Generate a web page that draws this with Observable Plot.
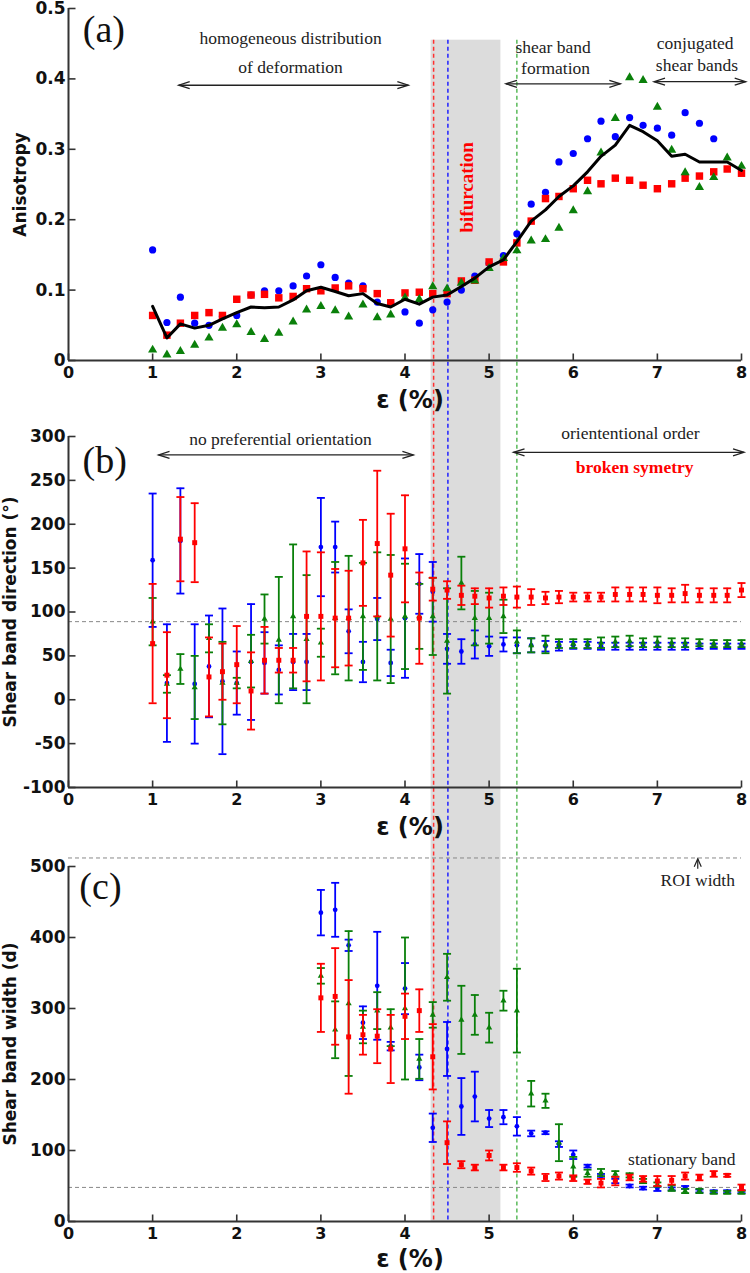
<!DOCTYPE html>
<html><head><meta charset="utf-8">
<script src="https://cdn.jsdelivr.net/npm/d3@7"></script>
<script src="https://cdn.jsdelivr.net/npm/@observablehq/plot@0.6"></script>
<style>body{margin:0;background:#fff} #chart svg{display:block}</style>
</head><body><div id="chart"></div>
<script>
// ---------- tick labels ----------
const xTicks = [0, 1, 2, 3, 4, 5, 6, 7, 8];
const aYTicks = [0, 0.1, 0.2, 0.3, 0.4, 0.5];
const bYTicks = [-100, -50, 0, 50, 100, 150, 200, 250, 300];
const cYTicks = [0, 100, 200, 300, 400, 500];

// ---------- panel (a): anisotropy ----------
const aX = [1,1.17,1.33,1.5,1.67,1.83,2,2.17,2.33,2.5,2.67,2.83,3,3.17,3.33,3.5,3.67,3.83,4,4.17,4.33,4.5,4.67,4.83,5,5.17,5.33,5.5,5.67,5.83,6,6.17,6.33,6.5,6.67,6.83,7,7.17,7.33,7.5,7.67,7.83,8];
const aBlue = [0.157,0.054,0.090,0.053,0.050,0.063,0.064,0.093,0.099,0.099,0.106,0.120,0.136,0.118,0.110,0.106,0.083,0.082,0.069,0.053,0.072,0.083,0.100,0.120,0.138,0.149,0.180,0.222,0.239,0.282,0.294,0.315,0.340,0.318,0.345,0.334,0.330,0.320,0.352,0.337,0.315,null,null];
const aRed = [0.064,0.036,0.053,0.064,0.068,0.064,0.087,0.093,0.094,0.089,0.091,0.102,0.099,0.103,0.106,0.102,0.095,0.082,0.096,0.097,0.095,0.095,0.113,0.114,0.140,0.140,0.167,0.198,0.230,0.233,0.244,0.256,0.251,0.259,0.256,0.249,0.244,0.251,0.259,0.262,0.268,0.272,0.266];
const aGreen = [0.015,0.008,0.013,0.022,0.032,0.046,0.051,0.040,0.030,0.039,0.055,0.072,0.077,0.071,0.062,0.079,0.061,0.065,0.089,0.087,0.105,0.102,0.110,0.113,0.131,0.145,0.156,0.170,0.172,0.188,0.213,0.240,0.295,0.344,0.402,0.398,0.360,0.299,0.267,0.246,0.260,0.288,0.276];
const aMean = [0.077,0.032,0.052,0.046,0.050,0.059,0.068,0.076,0.075,0.076,0.086,0.099,0.104,0.098,0.092,0.095,0.081,0.076,0.087,0.080,0.090,0.093,0.105,0.117,0.133,0.143,0.169,0.198,0.214,0.233,0.248,0.268,0.290,0.306,0.334,0.325,0.312,0.290,0.293,0.282,0.282,0.282,0.270];

// ---------- panel (b): shear band direction (mean, error) ----------
const bX = [1,1.17,1.33,1.5,1.67,1.83,2,2.17,2.33,2.5,2.67,2.83,3,3.17,3.33,3.5,3.67,3.83,4,4.17,4.33,4.5,4.67,4.83,5,5.17,5.33,5.5,5.67,5.83,6,6.17,6.33,6.5,6.67,6.83,7,7.17,7.33,7.5,7.67,7.83,8];
const bBlueM = [159,19,181,18,38,21,19,43,42,34,43,43,174,174,78,43,92,42,93,132,123,58,55,63,61,63,62,62,61,61,62,62,61,61,61,61,61,61,61,61,61,61,61];
const bBlueE = [76,67,60,68,58,83,36,66,35,28,32,32,56,29,25,23,24,15,68,34,34,17,14,16,11,8,9,8,6,5,4,4,4,4,4,4,4,4,4,3,3,3,3];
const bGreenM = [89,18,35,14,70,19,19,44,92,68,95,69,65,93,93,95,95,92,95,95,95,67,133,93,93,95,66,62,63,64,64,64,65,66,67,65,66,65,65,65,64,64,64];
const bGreenE = [27,10,17,36,16,47,6,30,28,72,82,73,16,64,71,61,73,73,60,37,44,60,30,31,29,19,13,8,10,5,5,5,6,6,6,5,6,5,5,4,4,4,4];
const bRedM = [64,28,183,179,26,32,40,10,45,45,45,95,95,93,93,156,178,142,172,93,126,125,119,118,116,118,117,117,116,117,117,117,117,120,120,120,119,119,121,119,119,119,125];
const bRedE = [68,49,48,45,45,32,44,44,38,14,14,74,73,56,54,49,83,70,61,52,13,10,11,9,11,10,12,9,7,7,5,5,5,8,8,8,9,8,10,8,8,8,8];

// ---------- panel (c): shear band width (mean, error) ----------
const cX = [3,3.17,3.33,3.5,3.67,3.83,4,4.17,4.33,4.5,4.67,4.83,5,5.17,5.33,5.5,5.67,5.83,6,6.17,6.33,6.5,6.67,6.83,7,7.17,7.33,7.5,7.67,7.83,8];
const cBlueM = [435,439,389,280,332,247,328,217,132,243,162,176,145,147,134,124,125,109,94,78,64,57,50,47,46,46,48,43,42,42,42];
const cBlueE = [32,38,8,23,76,6,36,18,20,38,40,35,12,10,13,4,2,4,6,2,3,3,2,2,3,2,2,2,2,2,2];
const cGreenM = [346,270,307,274,297,273,300,229,291,344,284,291,273,311,297,180,170,111,77,68,69,67,65,57,52,47,43,43,41,41,41];
const cGreenE = [11,40,102,23,26,26,100,28,18,33,48,28,21,14,59,18,10,26,14,5,5,4,3,3,3,4,3,3,2,2,2];
const cRedM = [315,317,260,263,261,243,289,297,232,111,80,76,93,76,76,71,62,64,61,56,54,57,62,60,57,58,64,62,67,65,48];
const cRedE = [48,68,80,28,38,48,32,30,46,30,5,4,7,4,6,5,5,5,4,3,6,6,4,4,7,6,5,4,4,2,4];

// ---------- reference lines / regions ----------
const bifurcationBand = [{x1: 4.31, x2: 5.14}];
const redOnset = [4.34], blueOnset = [4.51], greenOnset = [5.33];
const bRefLine = [89];
const cRefLines = [48, 512];

// ---------- annotations ----------
const annA = [
  {x: 2.64, y: 0.457, t: "homogeneous distribution"},
  {x: 2.64, y: 0.416, t: "of deformation"},
  {x: 5.76, y: 0.445, t: "shear band"},
  {x: 5.79, y: 0.415, t: "formation"},
  {x: 7.45, y: 0.450, t: "conjugated"},
  {x: 7.47, y: 0.419, t: "shear bands"}
];
const arrA = [{x1: 1.31, x2: 4.04, y: 0.391}, {x1: 5.2, x2: 6.56, y: 0.393}, {x1: 6.96, x2: 8.05, y: 0.396}];
const annB = [
  {x: 2.52, y: 297, t: "no preferential orientation"},
  {x: 6.68, y: 303, t: "orie" + "ntentional order"}
];
const arrB = [{x1: 1.07, x2: 4.10, y: 279}, {x1: 5.29, x2: 8.03, y: 282}];
const annC = [
  {x: 7.48, y: 480, t: "ROI width"},
  {x: 7.29, y: 87, t: "stationary band"}
];
const arrCup = [{x: 7.48, y1: 497, y2: 511}];

const RED = "#f00", BLUE = "#00f", GREEN = "#0a800a";
const AX = "#333";
const SERIF = "Liberation Serif";

// symbols
const tickIn = {draw(c) { c.moveTo(0, 0); c.lineTo(7, 0); }};
const tickUp = {draw(c) { c.moveTo(0, 0); c.lineTo(0, -7); }};
const cap = {draw(c, s) { const r = Math.sqrt(s / Math.PI); c.moveTo(-r, 0); c.lineTo(r, 0); }};
const chevL = {draw(c) { c.moveTo(11, -3.5); c.lineTo(0, 0); c.lineTo(11, 3.5); }};
const chevR = {draw(c) { c.moveTo(-11, -3.5); c.lineTo(0, 0); c.lineTo(-11, 3.5); }};
const chevU = {draw(c) { c.moveTo(-3.5, 8); c.lineTo(0, 0); c.lineTo(3.5, 8); }};

function frameMarks(yTicks, yMin, yFmt, yLabel, yLabelDx, xLabelDy) {
  return [
    Plot.ruleX([0], {stroke: AX, strokeWidth: 2}),
    Plot.ruleY([yMin], {stroke: AX, strokeWidth: 2}),
    Plot.dot(yTicks, {x: () => 0, y: d => d, symbol: tickIn, stroke: AX, strokeWidth: 1.6, fill: "none"}),
    Plot.dot(xTicks, {x: d => d, y: () => yMin, symbol: tickUp, stroke: AX, strokeWidth: 1.6, fill: "none"}),
    Plot.axisY({ticks: yTicks, tickSize: 0, tickPadding: 3, tickFormat: yFmt, label: null, fontSize: 17}),
    Plot.axisX({ticks: xTicks, tickSize: 0, tickPadding: 6, label: null, fontSize: 16}),
    Plot.text(["ε (%)"], {frameAnchor: "bottom", dy: xLabelDy, dx: 5, textAnchor: "middle", lineAnchor: "middle", fontSize: 24}),
    Plot.text([yLabel], {frameAnchor: "left", dx: yLabelDx, rotate: -90, textAnchor: "middle", lineAnchor: "middle", fontSize: 17})
  ];
}

function regionMarks(yTop, yBot) {
  const ext = {y1: () => yTop, y2: () => yBot};
  return [
    Plot.rect(bifurcationBand, {x1: "x1", x2: "x2", ...ext, fill: "#dcdcdc"}),
    Plot.ruleX(redOnset, {...ext, stroke: "#ff3030", strokeWidth: 1.5, strokeDasharray: "4,3"}),
    Plot.ruleX(blueOnset, {...ext, stroke: "#2020ff", strokeWidth: 1.5, strokeDasharray: "4,3"}),
    Plot.ruleX(greenOnset, {...ext, stroke: "#30a830", strokeWidth: 1.2, strokeDasharray: "4,3"})
  ];
}

function arrowMarks(arr) {
  return [
    Plot.link(arr, {x1: "x1", x2: "x2", y1: "y", y2: "y", stroke: "#222", strokeWidth: 1.3}),
    Plot.dot(arr, {x: "x1", y: "y", symbol: chevL, stroke: "#222", strokeWidth: 1.3, fill: "none"}),
    Plot.dot(arr, {x: "x2", y: "y", symbol: chevR, stroke: "#222", strokeWidth: 1.3, fill: "none"})
  ];
}

function annMarks(arr) {
  return Plot.text(arr, {x: "x", y: "y", text: "t", fontFamily: SERIF, fontWeight: "normal", fontSize: 17.5, fill: "#222"});
}

function errMarks(xs, ms, es, color, symbol, r) {
  const rows = xs.map((x, i) => ({x, m: ms[i], e: es[i]}));
  return [
    Plot.ruleX(rows, {x: "x", y1: d => d.m - d.e, y2: d => d.m + d.e, stroke: color, strokeWidth: 1.8}),
    Plot.dot(rows, {x: "x", y: d => d.m + d.e, symbol: cap, r: 4, stroke: color, strokeWidth: 1.8, fill: "none"}),
    Plot.dot(rows, {x: "x", y: d => d.m - d.e, symbol: cap, r: 4, stroke: color, strokeWidth: 1.8, fill: "none"}),
    Plot.dot(rows, {x: "x", y: "m", symbol, r, fill: color, stroke: "none"})
  ];
}

const style = {fontFamily: "DejaVu Sans", fontWeight: "bold", fontSize: "16px", color: "#111", background: "#fff", overflow: "hidden"};

function panel(height, marginTop, marginBottom, yDomain, marks) {
  return Plot.plot({
    width: 750, height, marginLeft: 68, marginRight: 9, marginTop, marginBottom,
    x: {domain: [0, 8]}, y: {domain: yDomain},
    style, marks
  });
}

// ---------- panel (a) ----------
const rowsA = aX.map((x, i) => ({x, blue: aBlue[i], red: aRed[i], green: aGreen[i], mean: aMean[i]}));
const plotA = panel(418, 8, 58, [0, 0.5], [
  ...regionMarks(0.455, -0.1),
  Plot.dot(rowsA.filter(d => d.blue != null), {x: "x", y: "blue", symbol: "circle", r: 3.6, fill: BLUE}),
  Plot.dot(rowsA, {x: "x", y: "red", symbol: "square", r: 4.2, fill: RED}),
  Plot.dot(rowsA, {x: "x", y: "green", symbol: "triangle", r: 3.4, fill: GREEN}),
  Plot.line(rowsA, {x: "x", y: "mean", stroke: "#000", strokeWidth: 3}),
  annMarks(annA),
  ...arrowMarks(arrA),
  Plot.text(["(a)"], {x: () => 0.42, y: () => 0.469, fontFamily: SERIF, fontWeight: "normal", fontSize: 38, fill: "#111"}),
  Plot.text(["bifurcation"], {x: () => 4.73, y: () => 0.246, rotate: -90, fontFamily: SERIF, fontWeight: "bold", fontSize: 19, fill: RED}),
  ...frameMarks(aYTicks, 0, d => d === 0 ? "0" : d.toFixed(1), "Anisotropy", -48, 40)
]);

// ---------- panel (b) ----------
const plotB = panel(427, 18, 58, [-100, 300], [
  ...regionMarks(330, -175),
  Plot.ruleY(bRefLine, {stroke: "#888", strokeWidth: 1, strokeDasharray: "4,3"}),
  ...errMarks(bX, bBlueM, bBlueE, BLUE, "circle", 2.4),
  ...errMarks(bX, bGreenM, bGreenE, GREEN, "triangle", 2.3),
  ...errMarks(bX, bRedM, bRedE, RED, "square", 2.8),
  annMarks(annB),
  ...arrowMarks(arrB),
  Plot.text(["broken symetry"], {x: () => 6.73, y: () => 264.6, fontFamily: SERIF, fontWeight: "bold", fontSize: 17.5, fill: RED}),
  Plot.text(["(b)"], {x: () => 0.43, y: () => 272.5, fontFamily: SERIF, fontWeight: "normal", fontSize: 38, fill: "#111"}),
  ...frameMarks(bYTicks, -100, d => String(d), "Shear band direction (°)", -58, 40)
]);

// ---------- panel (c) ----------
const plotC = panel(428, 21, 52, [0, 500], [
  ...regionMarks(540, 0),
  Plot.ruleY(cRefLines, {stroke: "#888", strokeWidth: 1, strokeDasharray: "4,3"}),
  ...errMarks(cX, cBlueM, cBlueE, BLUE, "circle", 2.4),
  ...errMarks(cX, cGreenM, cGreenE, GREEN, "triangle", 2.3),
  ...errMarks(cX, cRedM, cRedE, RED, "square", 2.8),
  annMarks(annC),
  Plot.link(arrCup, {x1: "x", x2: "x", y1: "y1", y2: "y2", stroke: "#222", strokeWidth: 1.2}),
  Plot.dot(arrCup, {x: "x", y: "y2", symbol: chevU, stroke: "#222", strokeWidth: 1.2, fill: "none"}),
  Plot.text(["(c)"], {x: () => 0.38, y: () => 471.5, fontFamily: SERIF, fontWeight: "normal", fontSize: 38, fill: "#111"}),
  ...frameMarks(cYTicks, 0, d => String(d), "Shear band width (d)", -58, 38)
]);

const chart = document.getElementById("chart");
chart.append(plotA, plotB, plotC);
</script></body></html>
